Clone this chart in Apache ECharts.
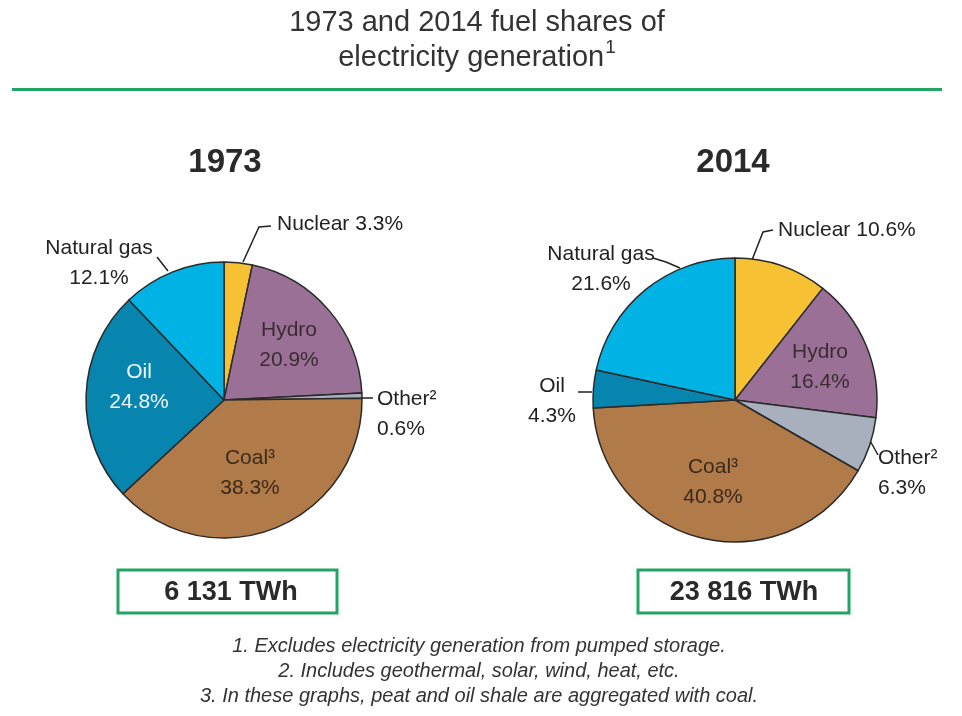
<!DOCTYPE html>
<html><head><meta charset="utf-8">
<script src="https://cdn.jsdelivr.net/npm/echarts@6/dist/echarts.min.js"></script>
<style>html,body{margin:0;padding:0;background:#fff}#c{width:962px;height:716px}</style>
</head><body><div id="c"></div>
<script>
// ---- data ----
const categories = ['Nuclear', 'Hydro', 'Other²', 'Coal³', 'Oil', 'Natural gas'];
const shares1973 = [3.3, 20.9, 0.6, 38.3, 24.8, 12.1];
const shares2014 = [10.6, 16.4, 6.3, 40.8, 4.3, 21.6];
const years = ['1973', '2014'];
const totals = ['6 131 TWh', '23 816 TWh'];
const titleLines = ['1973 and 2014 fuel shares of', 'electricity generation'];
const titleMark = '1';
const footnotes = [
  '1. Excludes electricity generation from pumped storage.',
  '2. Includes geothermal, solar, wind, heat, etc.',
  '3. In these graphs, peat and oil shale are aggregated with coal.'
];

// ---- styles / layout ----
const colors = ['#f6c234', '#9b7097', '#a8b0bd', '#b07a49', '#0785ae', '#00b3e4'];
const GREEN = '#22a463';
const FONT = '"Liberation Sans Narrow", "Arial Narrow", "Liberation Sans", Arial, sans-serif';
// label placement per slice: [x, y, align, twoLines, color, leaderPoints]
const labelLayout1973 = [
  [277, 224, 'left', false, '#222', [[243, 262], [259, 227], [271, 226]]],
  [289, 345, 'center', true, '#3a2c33', null],
  [377, 414, 'left', true, '#222', [[361, 398], [373, 398]]],
  [250, 473, 'center', true, '#3b2a1c', null],
  [139, 387, 'center', true, '#eef8fc', null],
  [99, 263, 'center', true, '#222', [[157, 257], [168, 271]]]
];
const labelLayout2014 = [
  [778, 230, 'left', false, '#222', [[752, 260], [763, 232], [773, 230]]],
  [820, 367, 'center', true, '#3a2c33', null],
  [878, 473, 'left', true, '#222', [[868, 437], [878, 455]]],
  [713, 482, 'center', true, '#3b2a1c', null],
  [552, 401, 'center', true, '#222', [[592, 392], [578, 392]]],
  [601, 269, 'center', true, '#222', [[653, 258], [666, 262], [680, 268]]]
];
const layouts = [labelLayout1973, labelLayout2014];

function pieSeries(values, center, radius, layout) {
  return {
    type: 'pie',
    center: center,
    radius: radius,
    startAngle: 90,
    clockwise: true,
    avoidLabelOverlap: false,
    animation: false,
    silent: true,
    itemStyle: { borderColor: '#2a2a2a', borderWidth: 1.5 },
    labelLine: { show: true, length: 10, length2: 10, smooth: false,
      lineStyle: { color: '#222', width: 1.5 } },
    data: categories.map((c, i) => ({
      name: c,
      value: values[i],
      itemStyle: { color: colors[i] },
      labelLine: { show: !!layout[i][5] },
      label: {
        show: true,
        position: 'outside',
        fontFamily: FONT,
        fontSize: 21,
        lineHeight: 30,
        color: layout[i][4],
        formatter: layout[i][3] ? c + '\n' + values[i].toFixed(1) + '%' : c + ' ' + values[i].toFixed(1) + '%'
      }
    }))
  };
}

function t(text, x, y, style) {
  return { text: text, left: x, top: y, textAlign: 'center', padding: 0,
    textStyle: Object.assign({ fontFamily: FONT, fontWeight: 'normal', color: '#333' }, style) };
}

const chart = echarts.init(document.getElementById('c'), null, { renderer: 'canvas' });
chart.setOption({
  backgroundColor: '#fff',
  animation: false,
  title: [
    t(titleLines[0], 477, 8, { fontSize: 29 }),
    t('{m|' + titleLines[1] + '}{s|' + titleMark + '}', 477, 38, { fontSize: 29,
        rich: {
          m: { fontFamily: FONT, fontSize: 29, lineHeight: 34, color: '#333', verticalAlign: 'bottom' },
          s: { fontFamily: FONT, fontSize: 19, lineHeight: 34, color: '#333', verticalAlign: 'top', padding: [0, 0, 0, 1] }
        } }),
    t(years[0], 225, 146, { fontSize: 33, fontWeight: 'bold', color: '#2a2a2a' }),
    t(years[1], 733, 146, { fontSize: 33, fontWeight: 'bold', color: '#2a2a2a' }),
    t(totals[0], 231, 579, { fontSize: 27, fontWeight: 'bold', color: '#2a2a2a' }),
    t(totals[1], 744, 579, { fontSize: 27, fontWeight: 'bold', color: '#2a2a2a' }),
    ...footnotes.map((s, i) => t(s, 479, 636 + i * 25, { fontSize: 20, fontStyle: 'italic' }))
  ],
  graphic: [
    { type: 'rect', shape: { x: 12, y: 88, width: 930, height: 3 }, style: { fill: GREEN } },
    { type: 'rect', shape: { x: 118, y: 570, width: 219, height: 43 }, style: { fill: 'none', stroke: GREEN, lineWidth: 3 } },
    { type: 'rect', shape: { x: 638, y: 570, width: 211, height: 43 }, style: { fill: 'none', stroke: GREEN, lineWidth: 3 } }
  ],
  series: [
    pieSeries(shares1973, [224, 400], 138, labelLayout1973),
    pieSeries(shares2014, [735, 400], 142, labelLayout2014)
  ].map((s, si) => Object.assign(s, {
    labelLayout: function (p) {
      const L = layouts[si][p.dataIndex];
      const out = { x: L[0], y: L[1], align: L[2], verticalAlign: 'middle' };
      if (L[5]) out.labelLinePoints = L[5];
      return out;
    }
  }))
});
</script></body></html>
